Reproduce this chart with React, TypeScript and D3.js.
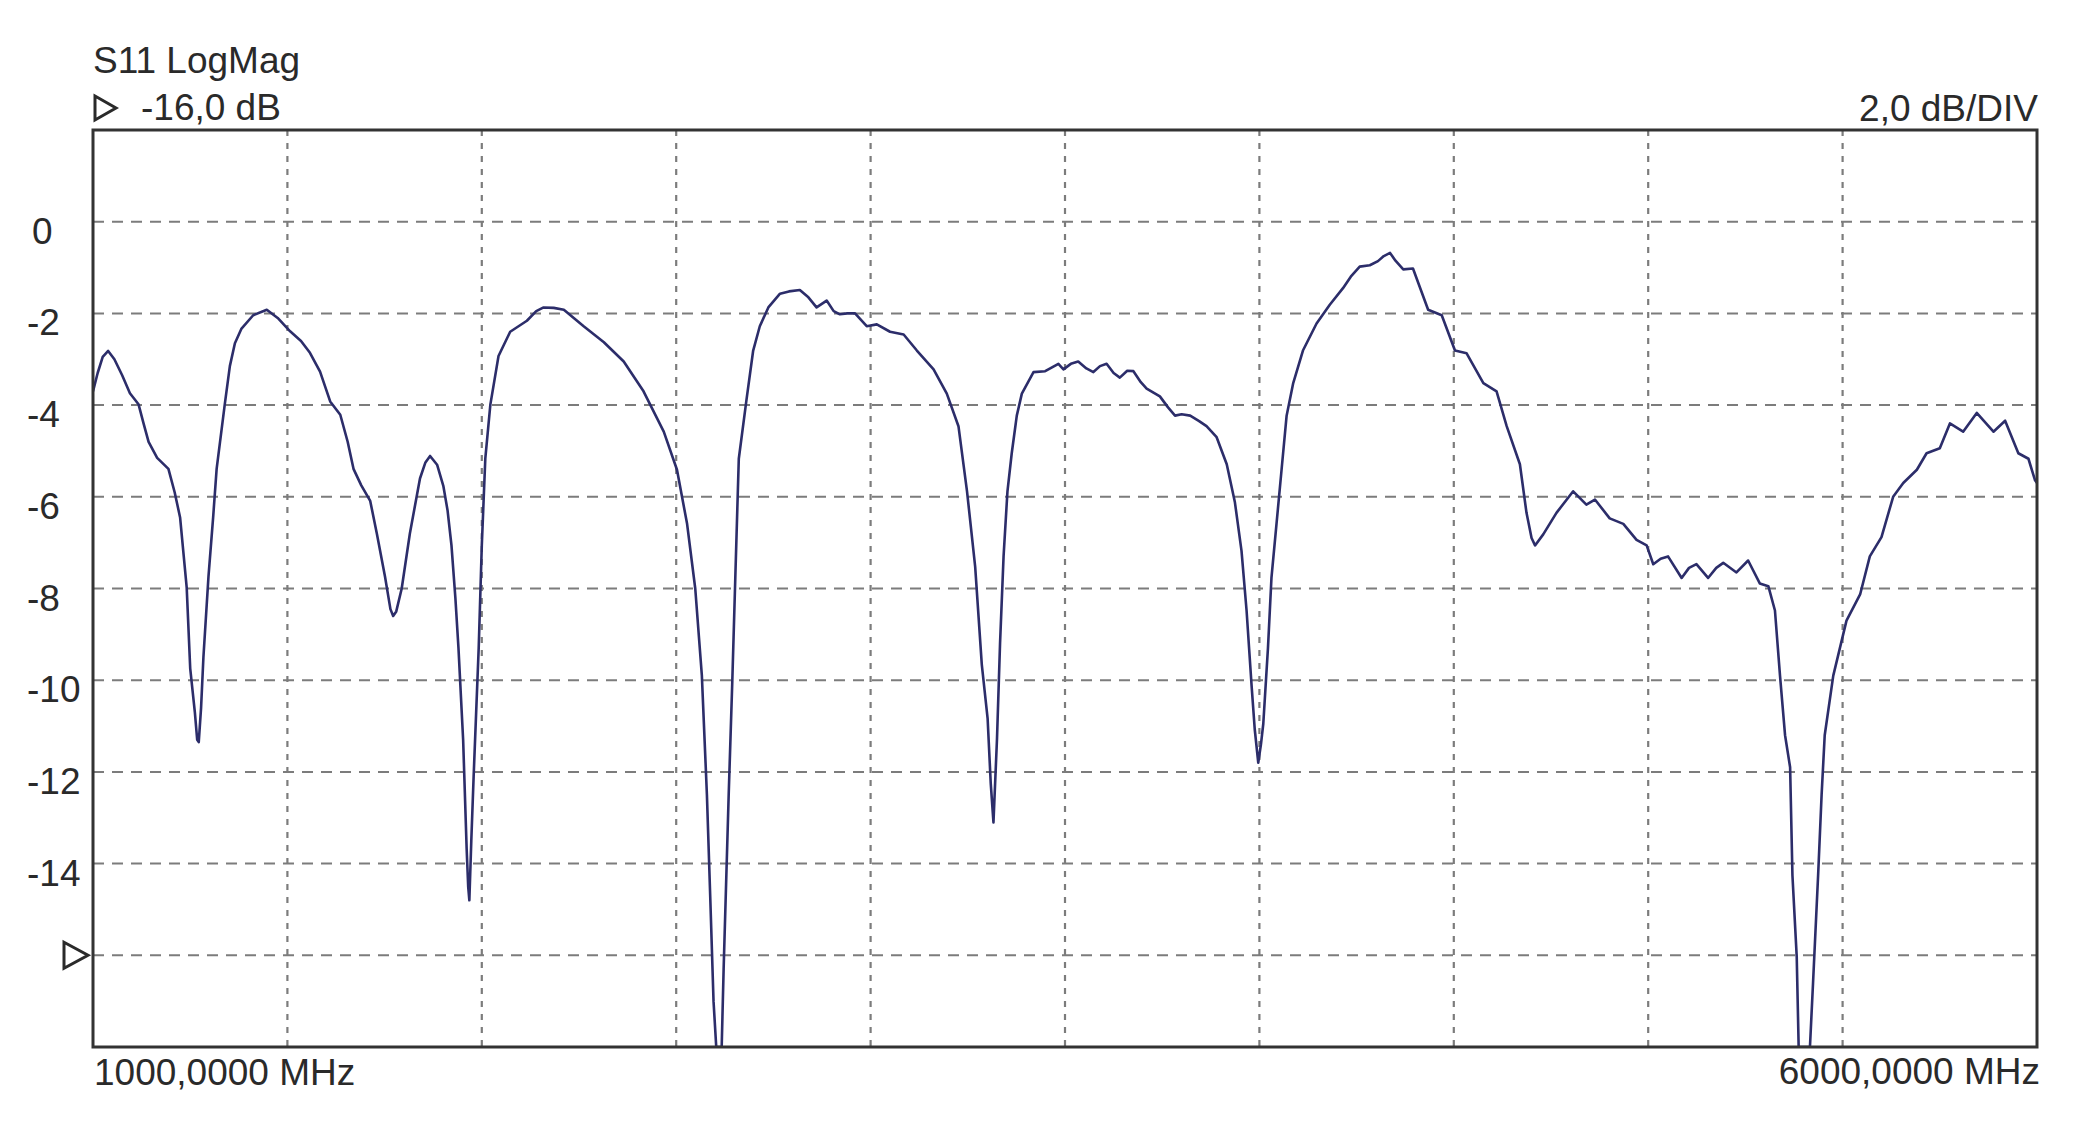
import React from 'react';
import * as d3 from 'd3';

// S11 LogMag trace
const freqMHz = [
  1000, 1012, 1025, 1039, 1055, 1075, 1095, 1117, 1130, 1143, 1165, 1194, 1210, 1224, 1241, 1250,
  1262, 1268, 1272, 1278, 1284, 1297, 1309, 1318, 1339, 1352, 1365, 1382, 1412, 1447, 1475, 1507,
  1535, 1558, 1584, 1610, 1636, 1655, 1670, 1690, 1713, 1730, 1751, 1765, 1772, 1780, 1794, 1815,
  1841, 1855, 1867, 1885, 1901, 1912, 1922, 1932, 1940, 1952, 1961, 1965, 1968, 1973, 1979, 1992,
  2000, 2009, 2022, 2043, 2073, 2116, 2140, 2159, 2185, 2211, 2262, 2314, 2365, 2416, 2468, 2502,
  2528, 2549, 2566, 2579, 2588, 2596, 2603, 2617, 2622, 2635, 2644, 2652, 2661, 2681, 2698, 2715,
  2737, 2767, 2790, 2818, 2840, 2861, 2887, 2905, 2921, 2940, 2960, 2990, 3016, 3050, 3085, 3119,
  3162, 3196, 3226, 3248, 3269, 3286, 3301, 3309, 3316, 3325, 3333, 3342, 3352, 3363, 3376, 3389,
  3419, 3449, 3483, 3496, 3515, 3534, 3555, 3573, 3590, 3607, 3625, 3641, 3660, 3676, 3695, 3710,
  3744, 3765, 3783, 3800, 3822, 3845, 3864, 3890, 3916, 3937, 3954, 3967, 3980, 3988, 3997, 4004,
  4010, 4022, 4031, 4044, 4057, 4070, 4087, 4112, 4147, 4181, 4215, 4235, 4258, 4284, 4305, 4320,
  4336, 4350, 4370, 4395, 4434, 4469, 4503, 4533, 4576, 4610, 4636, 4670, 4687, 4700, 4709, 4730,
  4764, 4807, 4841, 4863, 4901, 4936, 4970, 4996, 5013, 5032, 5051, 5086, 5105, 5124, 5154, 5175,
  5193, 5227, 5257, 5287, 5309, 5326, 5339, 5352, 5365, 5371, 5382, 5387, 5416, 5424, 5437, 5446,
  5454, 5476, 5510, 5545, 5570, 5600, 5630, 5656, 5691, 5716, 5750, 5776, 5810, 5845, 5888, 5918,
  5952, 5978, 5995, 6000,
];

const s11dB = [
  -3.7, -3.3, -2.95, -2.82, -3.0, -3.35, -3.74, -3.98, -4.4, -4.8, -5.15, -5.39, -5.9, -6.45, -7.98, -9.74,
  -10.7, -11.3, -11.35, -10.6, -9.5, -7.74, -6.45, -5.39, -3.98, -3.15, -2.65, -2.33, -2.04, -1.92, -2.1, -2.39,
  -2.6, -2.86, -3.27, -3.92, -4.21, -4.8, -5.39, -5.75, -6.09, -6.8, -7.74, -8.45, -8.6, -8.5, -8.0, -6.8,
  -5.6, -5.25, -5.11, -5.3, -5.76, -6.3, -7.06, -8.2, -9.3, -11.3, -13.67, -14.5, -14.8, -13.5, -12.1, -9.3,
  -7.06, -5.17, -3.99, -2.93, -2.4, -2.16, -1.95, -1.87, -1.88, -1.92, -2.28, -2.63, -3.05, -3.7, -4.58, -5.41,
  -6.59, -8.0, -9.9, -12.5, -14.85, -17.0, -18.0, -18.0, -16.3, -12.5, -10.1, -7.77, -5.17, -3.87, -2.81, -2.28,
  -1.87, -1.57, -1.52, -1.49, -1.65, -1.87, -1.72, -1.95, -2.02, -2.0, -2.0, -2.28, -2.24, -2.4, -2.46, -2.81,
  -3.22, -3.75, -4.46, -5.88, -7.53, -9.66, -10.84, -12.25, -13.1, -11.3, -9.18, -7.3, -5.88, -5.05, -4.23, -3.75,
  -3.28, -3.26, -3.1, -3.22, -3.1, -3.05, -3.2, -3.28, -3.15, -3.1, -3.3, -3.4, -3.25, -3.26, -3.5, -3.64,
  -3.81, -4.05, -4.23, -4.2, -4.23, -4.35, -4.46, -4.7, -5.29, -6.12, -7.18, -8.48, -10.13, -11.07, -11.8, -11.4,
  -10.95, -9.3, -7.77, -6.59, -5.41, -4.23, -3.52, -2.81, -2.22, -1.81, -1.45, -1.2, -0.98, -0.95, -0.86, -0.75,
  -0.68, -0.85, -1.04, -1.02, -1.92, -2.04, -2.81, -2.87, -3.52, -3.7, -4.46, -5.29, -6.35, -6.9, -7.06, -6.82,
  -6.35, -5.88, -6.17, -6.06, -6.47, -6.59, -6.94, -7.06, -7.47, -7.35, -7.3, -7.77, -7.55, -7.47, -7.77, -7.55,
  -7.44, -7.65, -7.39, -7.89, -7.95, -8.48, -9.9, -11.2, -11.9, -14.26, -16.03, -18.0, -18.0, -16.6, -14.26, -12.5,
  -11.2, -9.9, -8.7, -8.13, -7.3, -6.88, -6.0, -5.7, -5.41, -5.05, -4.94, -4.4, -4.58, -4.17, -4.58, -4.34,
  -5.05, -5.17, -5.64, -5.7,
];

const freqGrid = [1500, 2000, 2500, 3000, 3500, 4000, 4500, 5000, 5500];
const dbGrid = [0, -2, -4, -6, -8, -10, -12, -14, -16];
const dbTickLabels = ['0', '-2', '-4', '-6', '-8', '-10', '-12', '-14'];
const refLevel = -16;

const W = 2073;
const H = 1124;
const left = 93;
const right = 2037;
const top = 130;
const bottom = 1047;

const font = "'Liberation Sans', Arial, sans-serif";
const textColor = '#2a2a2a';

const App = () => {
  const x = d3.scaleLinear().domain([1000, 6000]).range([left, right]);
  const y = d3.scaleLinear().domain([-18, 2]).range([bottom, top]);

  const points = freqMHz.map((f, i) => [f, s11dB[i]] as [number, number]);
  const line = d3
    .line<[number, number]>()
    .x((d) => x(d[0]))
    .y((d) => y(d[1]));

  const yRef = y(refLevel);

  return (
    <svg
      width={W}
      height={H}
      style={{ position: 'absolute', left: 0, top: 0, background: '#fff' }}
      fontFamily={font}
    >
      <defs>
        <clipPath id="plot-clip">
          <rect x={left} y={top} width={right - left} height={bottom - top} />
        </clipPath>
      </defs>
      <rect x={0} y={0} width={W} height={H} fill="#fff" />

      {/* grid */}
      {dbGrid.map((v) => (
        <line
          key={'h' + v}
          x1={left}
          x2={right}
          y1={y(v)}
          y2={y(v)}
          stroke="#7c7c7c"
          strokeWidth={2}
          strokeDasharray="11 8"
        />
      ))}
      {freqGrid.map((f) => (
        <line
          key={'v' + f}
          x1={x(f)}
          x2={x(f)}
          y1={top}
          y2={bottom}
          stroke="#7c7c7c"
          strokeWidth={2.2}
          strokeDasharray="6 7"
        />
      ))}

      {/* trace */}
      <path
        d={line(points) || ''}
        fill="none"
        stroke="#2c2d6a"
        strokeWidth={2.6}
        strokeLinejoin="round"
        clipPath="url(#plot-clip)"
      />

      {/* frame */}
      <rect
        x={left}
        y={top}
        width={right - left}
        height={bottom - top}
        fill="none"
        stroke="#333"
        strokeWidth={3}
      />

      {/* y tick labels */}
      {dbTickLabels.map((t, i) => (
        <text
          key={t}
          x={t === '0' ? 32 : 27}
          y={y(dbGrid[i]) + 22}
          fontSize={37}
          fill={textColor}
        >
          {t}
        </text>
      ))}
      {/* reference level marker */}
      <path
        d={`M64,${yRef - 13} L88,${yRef} L64,${yRef + 13} Z`}
        fill="none"
        stroke={textColor}
        strokeWidth={3}
        strokeLinejoin="miter"
      />

      {/* header */}
      <text x={93} y={73} fontSize={37} fill={textColor}>
        S11 LogMag
      </text>
      <path
        d="M95,96 L116,108 L95,120 Z"
        fill="none"
        stroke={textColor}
        strokeWidth={3}
      />
      <text x={141} y={120} fontSize={37} fill={textColor}>
        -16,0 dB
      </text>
      <text x={2038} y={121} fontSize={37} fill={textColor} textAnchor="end">
        2,0 dB/DIV
      </text>

      {/* frequency span */}
      <text x={94} y={1085} fontSize={37} fill={textColor}>
        1000,0000 MHz
      </text>
      <text x={2040} y={1084} fontSize={37} fill={textColor} textAnchor="end">
        6000,0000 MHz
      </text>
    </svg>
  );
};

export default App;
